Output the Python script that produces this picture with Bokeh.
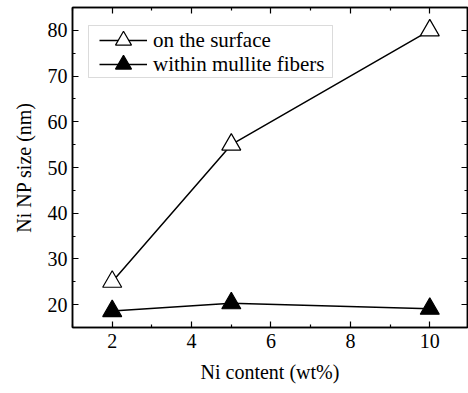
from bokeh.plotting import figure
from bokeh.models import LinearAxis, Range1d, Legend, LegendItem, FixedTicker, BoxAnnotation
from bokeh.embed import file_html
from bokeh.resources import INLINE

ni_content = [2, 5, 10]
surface_size = [25, 55, 80]
within_size = [18.6, 20.3, 19.1]

x_major = [2, 4, 6, 8, 10]
x_minor = [1, 3, 5, 7, 9]
y_major = [20, 30, 40, 50, 60, 70, 80]
y_minor = [15, 25, 35, 45, 55, 65, 75, 85]

FONT = "Times New Roman"
LEGEND_FONT = "Times New Roman"

p = figure(width=468, height=393, output_backend="svg", toolbar_location=None,
           x_range=Range1d(1, 10.95), y_range=Range1d(15, 85),
           min_border_left=72, min_border_right=1, min_border_top=7, min_border_bottom=66)
p.background_fill_color = "white"
p.border_fill_color = "white"
p.grid.visible = False
p.outline_line_color = "black"
p.outline_line_width = 1.5

def style_axis(ax, ticks, minor, show_labels=True):
    ax.ticker = FixedTicker(ticks=ticks, minor_ticks=minor)
    ax.axis_line_width = 1.5
    ax.axis_line_color = "black"
    ax.major_tick_in = 6
    ax.major_tick_out = 0
    ax.minor_tick_in = 3
    ax.minor_tick_out = 0
    ax.major_tick_line_width = 1.2
    ax.minor_tick_line_width = 1.2
    ax.major_label_text_font = FONT
    ax.major_label_text_font_size = "20px"
    ax.major_label_text_color = "black"
    ax.axis_label_text_font = FONT
    ax.axis_label_text_font_size = "20px"
    ax.axis_label_text_font_style = "normal"
    ax.axis_label_text_color = "black"
    if not show_labels:
        ax.major_label_overrides = {t: "" for t in ticks}
        ax.major_label_standoff = 0

style_axis(p.xaxis[0], x_major, x_minor)
style_axis(p.yaxis[0], y_major, y_minor)
p.xaxis[0].axis_label = "Ni content (wt%)"
p.yaxis[0].axis_label = "Ni NP size (nm)"
p.xaxis[0].major_label_standoff = 6
p.yaxis[0].major_label_standoff = 5
p.xaxis[0].axis_label_standoff = 10
p.yaxis[0].axis_label_standoff = 10

top = LinearAxis()
style_axis(top, x_major, x_minor, show_labels=False)
p.add_layout(top, "above")
right = LinearAxis()
style_axis(right, y_major, y_minor, show_labels=False)
p.add_layout(right, "right")

l1 = p.line(ni_content, surface_size, line_color="black", line_width=1.5)
s1 = p.scatter(ni_content, surface_size, marker="triangle", size=19,
               fill_color="white", line_color="black", line_width=1.2)
l2 = p.line(ni_content, within_size, line_color="black", line_width=1.5)
s2 = p.scatter(ni_content, within_size, marker="triangle", size=19,
               fill_color="black", line_color="black", line_width=1.2)

# legend frame
p.add_layout(BoxAnnotation(left=88, right=332, top=25, bottom=77,
                           left_units="canvas", right_units="canvas",
                           top_units="canvas", bottom_units="canvas",
                           fill_color="white", fill_alpha=1,
                           line_color="#888888", line_width=1, level="annotation"))

def make_legend(label, rends, loc):
    lg = Legend(items=[LegendItem(label=label, renderers=rends)], location=loc)
    lg.label_text_font = LEGEND_FONT
    lg.label_text_font_size = "21px"
    lg.label_text_color = "black"
    lg.glyph_width = 48
    lg.glyph_height = 40
    lg.label_standoff = 6
    lg.padding = 0
    lg.margin = 0
    lg.spacing = 0
    lg.border_line_color = None
    lg.background_fill_alpha = 0
    return lg

p.add_layout(make_legend("on the surface", [l1, s1], (27, 267)), "center")
p.add_layout(make_legend("within mullite fibers", [l2, s2], (27, 243)), "center")

open("out.html", "w").write(file_html(p, INLINE))
